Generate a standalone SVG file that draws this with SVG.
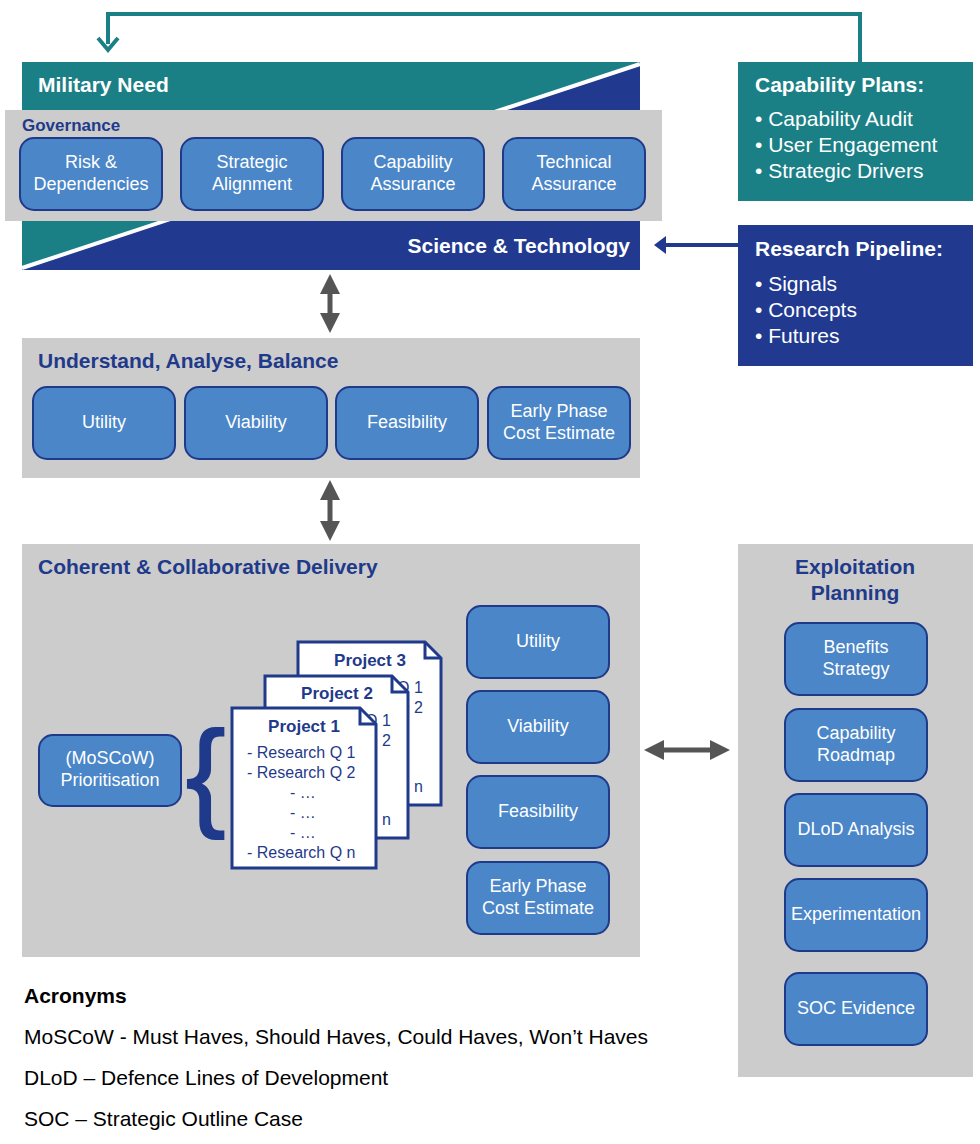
<svg xmlns="http://www.w3.org/2000/svg" width="980" height="1144" viewBox="0 0 980 1144">
<style>
text{font-family:"Liberation Sans",Arial,sans-serif}
.b{fill:#4a86c8;stroke:#1f3a8a;stroke-width:2}
.bt{fill:#fff;font-size:18px;text-anchor:middle}
.g{fill:#cccccc}
.h{fill:#1f3a8a;font-size:21px;font-weight:bold}
.w{fill:#fff;font-size:21px}
.wb{fill:#fff;font-size:21px;font-weight:bold}
.doc{fill:#fff;stroke:#1f3a8a;stroke-width:3}
.dt{fill:#1f3a8a;font-size:16px}
.dh{fill:#1f3a8a;font-size:17px;font-weight:bold;text-anchor:middle}
.k{fill:#000;font-size:21px}
</style>
<defs>
<marker id="ah" viewBox="0 0 10 10" refX="5" refY="5" markerWidth="4" markerHeight="4" orient="auto-start-reverse"><path d="M0,0 L10,5 L0,10 z" fill="#555"/></marker>
</defs>
<g id="top">
<rect x="22" y="62" width="618" height="208" fill="#1b7f86"/>
<polygon points="640,62 640,270 22,270" fill="#213a8f"/>
<line x1="640" y1="64" x2="22" y2="268" stroke="#fff" stroke-width="4"/>
<text x="38" y="92" class="wb">Military Need</text>
<text x="630" y="253" class="wb" text-anchor="end">Science &amp; Technology</text>
<rect x="5" y="110" width="657" height="111" class="g"/>
<text x="22" y="131" fill="#1f3a8a" font-size="17" font-weight="bold">Governance</text>
<rect x="20" y="138" width="142" height="72" rx="14" class="b"/>
<text x="91" y="168" class="bt">Risk &amp;</text><text x="91" y="190" class="bt">Dependencies</text>
<rect x="181" y="138" width="142" height="72" rx="14" class="b"/>
<text x="252" y="168" class="bt">Strategic</text><text x="252" y="190" class="bt">Alignment</text>
<rect x="342" y="138" width="142" height="72" rx="14" class="b"/>
<text x="413" y="168" class="bt">Capability</text><text x="413" y="190" class="bt">Assurance</text>
<rect x="503" y="138" width="142" height="72" rx="14" class="b"/>
<text x="574" y="168" class="bt">Technical</text><text x="574" y="190" class="bt">Assurance</text>
</g>
<g id="capplans">
<rect x="738" y="62" width="235" height="139" fill="#1b7f86"/>
<text x="755" y="92" class="wb">Capability Plans:</text>
<text x="755" y="126" class="w">• Capability Audit</text>
<text x="755" y="152" class="w">• User Engagement</text>
<text x="755" y="178" class="w">• Strategic Drivers</text>
</g>
<g id="research">
<rect x="738" y="225" width="235" height="141" fill="#213a8f"/>
<text x="755" y="256" class="wb">Research Pipeline:</text>
<text x="755" y="291" class="w">• Signals</text>
<text x="755" y="317" class="w">• Concepts</text>
<text x="755" y="343" class="w">• Futures</text>
</g>
<g id="uab">
<rect x="22" y="338" width="618" height="140" class="g"/>
<text x="38" y="368" class="h">Understand, Analyse, Balance</text>
<rect x="33" y="387" width="142" height="72" rx="14" class="b"/><text x="104" y="428" class="bt">Utility</text>
<rect x="185" y="387" width="142" height="72" rx="14" class="b"/><text x="256" y="428" class="bt">Viability</text>
<rect x="336" y="387" width="142" height="72" rx="14" class="b"/><text x="407" y="428" class="bt">Feasibility</text>
<rect x="488" y="387" width="142" height="72" rx="14" class="b"/><text x="559" y="417" class="bt">Early Phase</text><text x="559" y="439" class="bt">Cost Estimate</text>
</g>
<g id="delivery">
<rect x="22" y="544" width="618" height="413" class="g"/>
<text x="38" y="574" class="h">Coherent &amp; Collaborative Delivery</text>
<rect x="39" y="735" width="142" height="71" rx="14" class="b"/>
<text x="110" y="764" class="bt">(MoSCoW)</text><text x="110" y="786" class="bt">Prioritisation</text>
<text x="186" y="814" fill="#1f3a8a" font-size="118" stroke="#1f3a8a" stroke-width="2">{</text>
<g id="p3"><path d="M298,642 H425 L441,658 V805 H298 Z" class="doc"/><path d="M425,642 V658 H441" fill="none" stroke="#1f3a8a" stroke-width="3"/>
<text x="370" y="666" class="dh">Project 3</text>
<text x="397" y="693" class="dt">Q 1</text><text x="397" y="713" class="dt">Q 2</text><text x="397" y="792" class="dt">Q n</text></g>
<g id="p2"><path d="M265,676 H392 L408,692 V838 H265 Z" class="doc"/><path d="M392,676 V692 H408" fill="none" stroke="#1f3a8a" stroke-width="3"/>
<text x="337" y="699" class="dh">Project 2</text>
<text x="365" y="726" class="dt">Q 1</text><text x="365" y="746" class="dt">Q 2</text><text x="365" y="825" class="dt">Q n</text></g>
<g id="p1"><path d="M232,708 H360 L376,724 V868 H232 Z" class="doc"/><path d="M360,708 V724 H376" fill="none" stroke="#1f3a8a" stroke-width="3"/>
<text x="304" y="732" class="dh">Project 1</text>
<text x="247" y="758" class="dt">- Research Q 1</text><text x="247" y="778" class="dt">- Research Q 2</text>
<text x="290" y="798" class="dt">- …</text><text x="290" y="818" class="dt">- …</text><text x="290" y="838" class="dt">- …</text>
<text x="247" y="858" class="dt">- Research Q n</text></g>
<rect x="467" y="606" width="142" height="72" rx="14" class="b"/><text x="538" y="647" class="bt">Utility</text>
<rect x="467" y="691" width="142" height="72" rx="14" class="b"/><text x="538" y="732" class="bt">Viability</text>
<rect x="467" y="776" width="142" height="72" rx="14" class="b"/><text x="538" y="817" class="bt">Feasibility</text>
<rect x="467" y="862" width="142" height="72" rx="14" class="b"/><text x="538" y="892" class="bt">Early Phase</text><text x="538" y="914" class="bt">Cost Estimate</text>
</g>
<g id="exploit">
<rect x="738" y="544" width="235" height="533" class="g"/>
<text x="855" y="574" class="h" text-anchor="middle">Exploitation</text>
<text x="855" y="600" class="h" text-anchor="middle">Planning</text>
<rect x="785" y="623" width="142" height="72" rx="14" class="b"/><text x="856" y="653" class="bt">Benefits</text><text x="856" y="675" class="bt">Strategy</text>
<rect x="785" y="709" width="142" height="72" rx="14" class="b"/><text x="856" y="739" class="bt">Capability</text><text x="856" y="761" class="bt">Roadmap</text>
<rect x="785" y="794" width="142" height="72" rx="14" class="b"/><text x="856" y="835" class="bt">DLoD Analysis</text>
<rect x="785" y="879" width="142" height="72" rx="14" class="b"/><text x="856" y="920" class="bt">Experimentation</text>
<rect x="785" y="973" width="142" height="72" rx="14" class="b"/><text x="856" y="1014" class="bt">SOC Evidence</text>
</g>
<g id="acronyms">
<text x="24" y="1003" class="k" font-weight="bold">Acronyms</text>
<text x="24" y="1044" class="k">MoSCoW - Must Haves, Should Haves, Could Haves, Won’t Haves</text>
<text x="24" y="1085" class="k">DLoD – Defence Lines of Development</text>
<text x="24" y="1126" class="k">SOC – Strategic Outline Case</text>
</g>
<g id="connectors" fill="none">
<path d="M860,62 V14 H108 V44" stroke="#1b7f86" stroke-width="4"/>
<path d="M98,38 L108,50 L118,38" stroke="#1b7f86" stroke-width="4"/>
<line x1="738" y1="245" x2="664" y2="245" stroke="#213a8f" stroke-width="4"/>
<path d="M666,236 L654,245 L666,254 Z" fill="#213a8f"/>
<line x1="330" y1="284" x2="330" y2="323" stroke="#555" stroke-width="5" marker-start="url(#ah)" marker-end="url(#ah)"/>
<line x1="330" y1="490" x2="330" y2="531" stroke="#555" stroke-width="5" marker-start="url(#ah)" marker-end="url(#ah)"/>
<line x1="654" y1="750" x2="720" y2="750" stroke="#555" stroke-width="5" marker-start="url(#ah)" marker-end="url(#ah)"/>
</g>
</svg>
